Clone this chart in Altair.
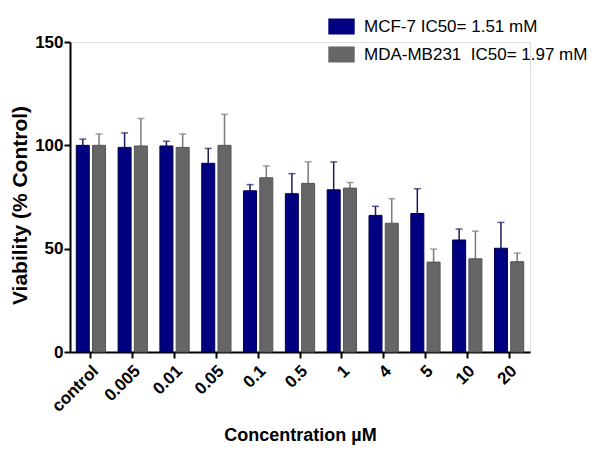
import altair as alt
import pandas as pd

categories = ["control", "0.005", "0.01", "0.05", "0.1", "0.5", "1", "4", "5", "10", "20"]
series_names = ["MCF-7 IC50= 1.51 mM", "MDA-MB231\u00a0 IC50= 1.97 mM"]
mcf7_mean = [100, 99, 99.7, 91.3, 78, 76.6, 78.5, 66.1, 67, 54.2, 50.2]
mcf7_err = [3, 7, 2.3, 7.2, 3, 9.7, 13.5, 4.4, 12, 5.3, 12.5]
mda_mean = [100, 99.7, 99, 100, 84.3, 81.6, 79.3, 62.3, 43.5, 45.1, 43.7]
mda_err = [5.5, 13.3, 6.5, 15, 5.7, 10.4, 2.7, 11.9, 6.3, 13.4, 4.2]

rows = []
for i, c in enumerate(categories):
    rows.append({"conc": c, "series": series_names[0], "v": mcf7_mean[i], "top": mcf7_mean[i] + mcf7_err[i]})
    rows.append({"conc": c, "series": series_names[1], "v": mda_mean[i], "top": mda_mean[i] + mda_err[i]})
df = pd.DataFrame(rows)

FONT = "Liberation Sans"

xenc = alt.X("conc:N", sort=categories,
             scale=alt.Scale(paddingInner=0.3, paddingOuter=0.15),
             axis=alt.Axis(title="Concentration \u00b5M", labelAngle=-45, labelAlign="right",
                           labelBaseline="middle", labelFontSize=17, labelFontWeight="bold",
                           labelColor="black", labelPadding=10, labelOffset=5, labelFont=FONT,
                           titleFontSize=18, titleFontWeight="bold", titleFont=FONT,
                           titleColor="black", titlePadding=12,
                           domainColor="black", domainWidth=2, tickColor="black",
                           tickWidth=2, tickSize=6))
xoff = alt.XOffset("series:N", sort=series_names, scale=alt.Scale(paddingInner=0.2))
yscale = alt.Scale(domain=[0, 150], nice=False)

colors = alt.Scale(domain=series_names, range=["#000080", "#666666"])
errcolors = alt.Scale(domain=series_names, range=["#1a1a5c", "#7a7a7a"])

bars = alt.Chart(df).mark_bar(strokeWidth=1).encode(
    x=xenc,
    xOffset=xoff,
    y=alt.Y("v:Q", scale=yscale,
            axis=alt.Axis(title="Viability (% Control)", values=[0, 50, 100, 150],
                          labelFontSize=17, labelFontWeight="bold", labelColor="black",
                          labelFont=FONT, labelPadding=1,
                          titleFontSize=21, titleFontWeight="bold", titleFont=FONT,
                          titleColor="black", titleX=-40, titleY=163, titleAnchor="middle",
                          domainColor="black", domainWidth=2, tickColor="black",
                          tickWidth=2, tickSize=6, grid=False)),
    color=alt.Color("series:N", scale=colors,
                    legend=alt.Legend(title=None, orient="none", legendX=263, legendY=-24,
                                      symbolType="M-1.65,-1H1.65V1H-1.65Z", symbolSize=256,
                                      symbolStrokeWidth=0, labelFontSize=17, labelFont=FONT,
                                      labelColor="black", labelOffset=14, rowPadding=10,
                                      labelLimit=0, padding=0)),
    stroke=alt.Stroke("series:N", scale=alt.Scale(domain=series_names, range=["#00004a", "#555555"]),
                      legend=None),
)

rules = alt.Chart(df).mark_rule(strokeWidth=1.5).encode(
    x=alt.X("conc:N", sort=categories),
    xOffset=xoff,
    y=alt.Y("v:Q", scale=yscale),
    y2="top:Q",
    color=alt.Color("series:N", scale=errcolors, legend=None),
)

caps = alt.Chart(df).mark_tick(thickness=1.5, size=7, orient="horizontal").encode(
    x=alt.X("conc:N", sort=categories),
    xOffset=xoff,
    y=alt.Y("top:Q", scale=yscale),
    color=alt.Color("series:N", scale=errcolors, legend=None),
)

chart = alt.layer(rules, caps, bars).resolve_scale(color="independent").properties(
    width=460, height=310,
    autosize=alt.AutoSizeParams(type="none"),
    padding={"left": 62, "top": 34, "right": 62, "bottom": 95},
).configure_view(stroke=None).configure(background="white")

chart.save("out.html", embed_options={"renderer": "svg", "actions": False})
